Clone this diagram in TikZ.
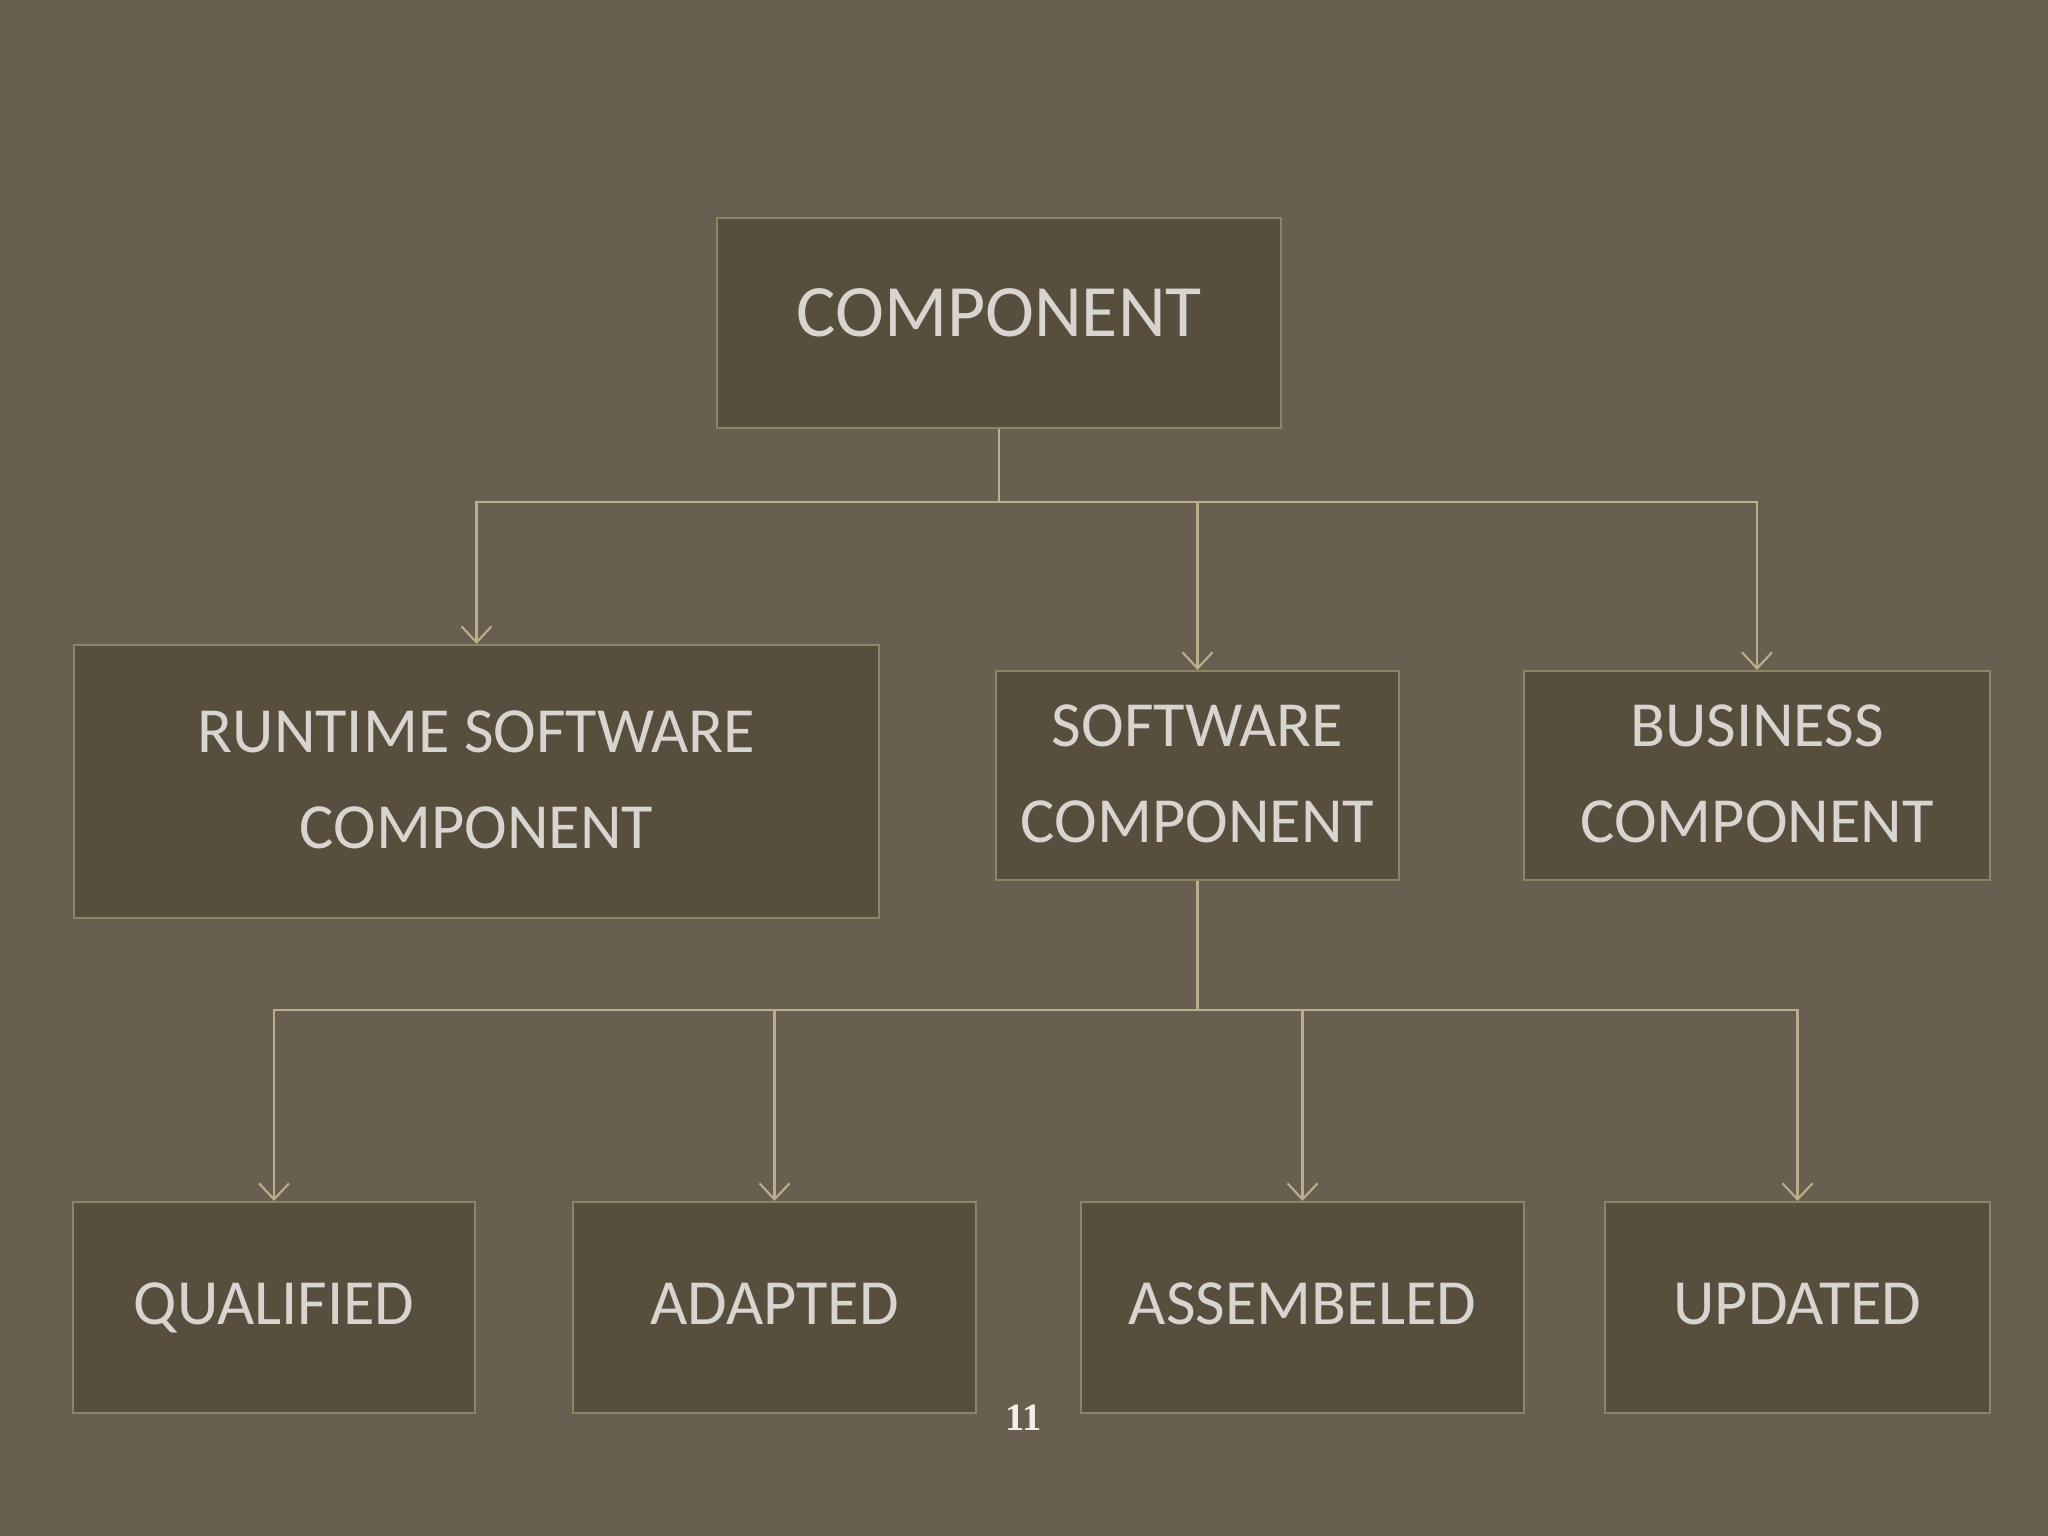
\documentclass[tikz,border=0pt]{standalone}
\usepackage{fontspec}
\setmainfont{Carlito}
\newfontfamily\numfont{Liberation Serif}
\usetikzlibrary{arrows.meta}
\definecolor{bgc}{HTML}{695F51}
\definecolor{boxfill}{HTML}{574E3D}
\definecolor{boxedge}{HTML}{8C8566}
\definecolor{linec}{HTML}{B8B08A}
\definecolor{txtc}{HTML}{D8D4D0}
\definecolor{numc}{HTML}{F2F0EA}
\tikzset{
  box/.style={draw=boxedge, line width=0.6pt, fill=boxfill, text=txtc, align=center,
    inner sep=0pt, font=\fontsize{18.3}{27.2}\selectfont},
  conn/.style={draw=linec, line width=0.6pt},
  arr/.style={conn, -{Straight Barb[length=0.16cm, width=0.3cm, line width=0.6pt]}}
}
\begin{document}
\begin{tikzpicture}[x=0.01cm, y=-0.01cm]
\fill[bgc] (0,0) rectangle (2048,1536);
\useasboundingbox (0,0) rectangle (2048,1536);

\node[box, minimum width=5.64cm, minimum height=2.10cm, font=\fontsize{21}{27}\selectfont] (comp) at (999,323) {\raisebox{0.2cm}{COMPONENT}};

\node[box, minimum width=8.05cm, minimum height=2.73cm] (runtime) at (476.5,781.5) {\raisebox{0.06cm}{\begin{tabular}{@{}c@{}}RUNTIME SOFTWARE\\COMPONENT\end{tabular}}};
\node[box, minimum width=4.03cm, minimum height=2.09cm] (software) at (1197.5,775.5) {\raisebox{0.06cm}{\begin{tabular}{@{}c@{}}SOFTWARE\\COMPONENT\end{tabular}}};
\node[box, minimum width=4.66cm, minimum height=2.09cm] (business) at (1757,775.5) {\raisebox{0.06cm}{\begin{tabular}{@{}c@{}}BUSINESS\\COMPONENT\end{tabular}}};

\node[box, minimum width=4.02cm, minimum height=2.11cm] (qualified) at (274,1307.5) {\raisebox{0.07cm}{QUALIFIED}};
\node[box, minimum width=4.03cm, minimum height=2.11cm] (adapted) at (774.5,1307.5) {\raisebox{0.07cm}{ADAPTED}};
\node[box, minimum width=4.43cm, minimum height=2.11cm] (assembeled) at (1302.5,1307.5) {\raisebox{0.07cm}{ASSEMBELED}};
\node[box, minimum width=3.85cm, minimum height=2.11cm] (updated) at (1797.5,1307.5) {\raisebox{0.07cm}{UPDATED}};

\coordinate (j1) at (999,502);
\coordinate (j2) at (1197.5,1010);

\draw[conn] (comp.south) -- (j1);
\draw[arr] (j1) -| (runtime.north);
\draw[arr] (j1) -| (software.north);
\draw[arr] (j1) -| (business.north);

\draw[conn] (software.south) -- (j2);
\draw[arr] (j2) -| (qualified.north);
\draw[arr] (j2) -| (adapted.north);
\draw[arr] (j2) -| (assembeled.north);
\draw[arr] (j2) -| (updated.north);

\node[text=numc, font=\numfont\bfseries\fontsize{11}{12}\selectfont] (pagenum) at (1024,1418) {11};
\end{tikzpicture}
\end{document}
